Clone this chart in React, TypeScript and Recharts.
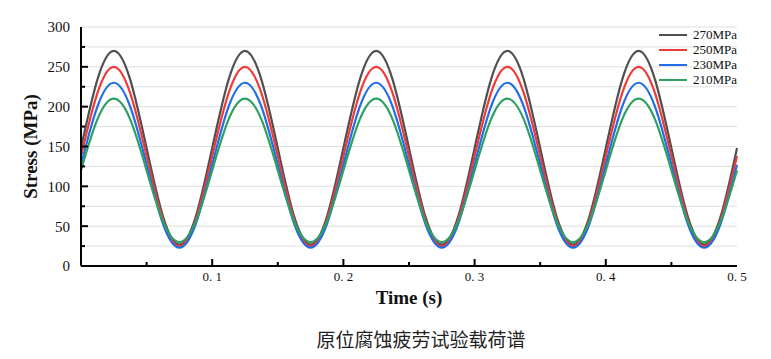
import { CartesianGrid, Label, Line, LineChart, XAxis, YAxis } from "recharts";

// sample times (s), every 1/8 of a loading cycle
const times = [
  0, 0.0125, 0.025, 0.0375, 0.05, 0.0625, 0.075, 0.0875,
  0.1, 0.1125, 0.125, 0.1375, 0.15, 0.1625, 0.175, 0.1875,
  0.2, 0.2125, 0.225, 0.2375, 0.25, 0.2625, 0.275, 0.2875,
  0.3, 0.3125, 0.325, 0.3375, 0.35, 0.3625, 0.375, 0.3875,
  0.4, 0.4125, 0.425, 0.4375, 0.45, 0.4625, 0.475, 0.4875,
  0.5,
];

const stress270 = [
  148, 234, 270, 234, 148, 62, 27, 62,
  148, 234, 270, 234, 148, 62, 27, 62,
  148, 234, 270, 234, 148, 62, 27, 62,
  148, 234, 270, 234, 148, 62, 27, 62,
  148, 234, 270, 234, 148, 62, 27, 62,
  148,
];
const stress250 = [
  138, 217, 250, 217, 138, 58, 25, 58,
  138, 217, 250, 217, 138, 58, 25, 58,
  138, 217, 250, 217, 138, 58, 25, 58,
  138, 217, 250, 217, 138, 58, 25, 58,
  138, 217, 250, 217, 138, 58, 25, 58,
  138,
];
const stress230 = [
  127, 200, 230, 200, 127, 53, 23, 53,
  127, 200, 230, 200, 127, 53, 23, 53,
  127, 200, 230, 200, 127, 53, 23, 53,
  127, 200, 230, 200, 127, 53, 23, 53,
  127, 200, 230, 200, 127, 53, 23, 53,
  127,
];
const stress210 = [
  120, 184, 210, 184, 120, 56, 30, 56,
  120, 184, 210, 184, 120, 56, 30, 56,
  120, 184, 210, 184, 120, 56, 30, 56,
  120, 184, 210, 184, 120, 56, 30, 56,
  120, 184, 210, 184, 120, 56, 30, 56,
  120,
];

const yTicks = [0, 25, 50, 75, 100, 125, 150, 175, 200, 225, 250, 275, 300];
const xTicks = [0, 0.05, 0.1, 0.15, 0.2, 0.25, 0.3, 0.35, 0.4, 0.45, 0.5];

const series = [
  { key: "s270", name: "270MPa", color: "#505050", values: stress270 },
  { key: "s250", name: "250MPa", color: "#F03A3A", values: stress250 },
  { key: "s230", name: "230MPa", color: "#1F6EE6", values: stress230 },
  { key: "s210", name: "210MPa", color: "#2EA062", values: stress210 },
];

const data = times.map((t, i) => {
  const row: Record<string, number> = { t };
  series.forEach((s) => (row[s.key] = s.values[i]));
  return row;
});

const SERIF = "'Liberation Serif', 'Times New Roman', serif";
const Y_MARGIN = 11;
const X_MARGIN = 6;

function YTick({ x, y, payload }: any) {
  const v = payload.value as number;
  const major = v % 50 === 0;
  const axisX = x + Y_MARGIN;
  return (
    <g>
      {v !== 0 && v !== 300 && (
        <line x1={axisX} x2={axisX + (major ? 7 : 4)} y1={y} y2={y} stroke="#000" strokeWidth={2} />
      )}
      {major && (
        <text x={x} y={y} dy="0.36em" textAnchor="end" fontFamily={SERIF} fontSize={15} fill="#111">
          {v}
        </text>
      )}
    </g>
  );
}

function XTick({ x, y, payload }: any) {
  const v = payload.value as number;
  const tenths = Math.round(v * 100);
  const major = tenths % 10 === 0;
  const axisY = y - X_MARGIN;
  return (
    <g>
      {v !== 0 && v !== 0.5 && (
        <line x1={x} x2={x} y1={axisY} y2={axisY - (major ? 7 : 4)} stroke="#000" strokeWidth={2} />
      )}
      {major && v !== 0 && (
        <text x={x} y={y} dy="0.71em" textAnchor="middle" fontFamily={SERIF} fontSize={13} fill="#111">
          {v.toFixed(1).replace(".", ". ")}
        </text>
      )}
    </g>
  );
}

export default function App() {
  return (
    <div style={{ position: "absolute", left: 0, top: 0, width: 771, height: 359, background: "#fff" }}>
      <LineChart width={771} height={359} data={data} margin={{ top: 27, right: 34, bottom: 53, left: 21 }}>
        <CartesianGrid stroke="#dedede" vertical={false} />
        <XAxis
          dataKey="t"
          type="number"
          domain={[0, 0.5]}
          ticks={xTicks}
          height={40}
          tickSize={0}
          tickMargin={X_MARGIN}
          tickLine={false}
          tick={XTick}
          interval={0}
          axisLine={{ stroke: "#000", strokeWidth: 2 }}
        >
          <Label
            value="Time (s)"
            position="insideBottom"
            offset={2}
            style={{ fontFamily: SERIF, fontSize: 19, fontWeight: "bold", fill: "#111" }}
          />
        </XAxis>
        <XAxis
          xAxisId="top"
          orientation="top"
          dataKey="t"
          type="number"
          domain={[0, 0.5]}
          height={0}
          tick={false}
          tickLine={false}
          axisLine={{ stroke: "#000", strokeWidth: 2 }}
        />
        <YAxis
          domain={[0, 300]}
          ticks={yTicks}
          width={60}
          tickSize={0}
          tickMargin={Y_MARGIN}
          tickLine={false}
          tick={YTick}
          interval={0}
          axisLine={{ stroke: "#000", strokeWidth: 2 }}
        >
          <Label
            value="Stress (MPa)"
            angle={-90}
            position="insideLeft"
            offset={9}
            style={{ textAnchor: "middle", fontFamily: SERIF, fontSize: 19, fontWeight: "bold", fill: "#111" }}
          />
        </YAxis>
        <YAxis
          yAxisId="right"
          orientation="right"
          domain={[0, 300]}
          width={0}
          tick={false}
          tickLine={false}
          axisLine={{ stroke: "#000", strokeWidth: 2 }}
        />
        {series.map((s) => (
          <Line
            key={s.key}
            type="natural"
            dataKey={s.key}
            name={s.name}
            stroke={s.color}
            strokeWidth={2.2}
            dot={false}
            isAnimationActive={false}
          />
        ))}
      </LineChart>
      <div style={{ position: "absolute", left: 659, top: 27 }}>
        {series.map((s) => (
          <div key={s.key} style={{ display: "flex", alignItems: "center", height: 15 }}>
            <span style={{ width: 28, height: 2, background: s.color, marginRight: 6 }} />
            <span style={{ fontFamily: SERIF, fontSize: 13, color: "#111", lineHeight: "15px" }}>{s.name}</span>
          </div>
        ))}
      </div>
      <div
        style={{
          position: "absolute",
          left: 0,
          width: 842,
          top: 325,
          textAlign: "center",
          fontFamily: "'Noto Sans CJK SC', sans-serif",
          fontSize: 19,
          color: "#222",
        }}
      >
        原位腐蚀疲劳试验载荷谱
      </div>
    </div>
  );
}
